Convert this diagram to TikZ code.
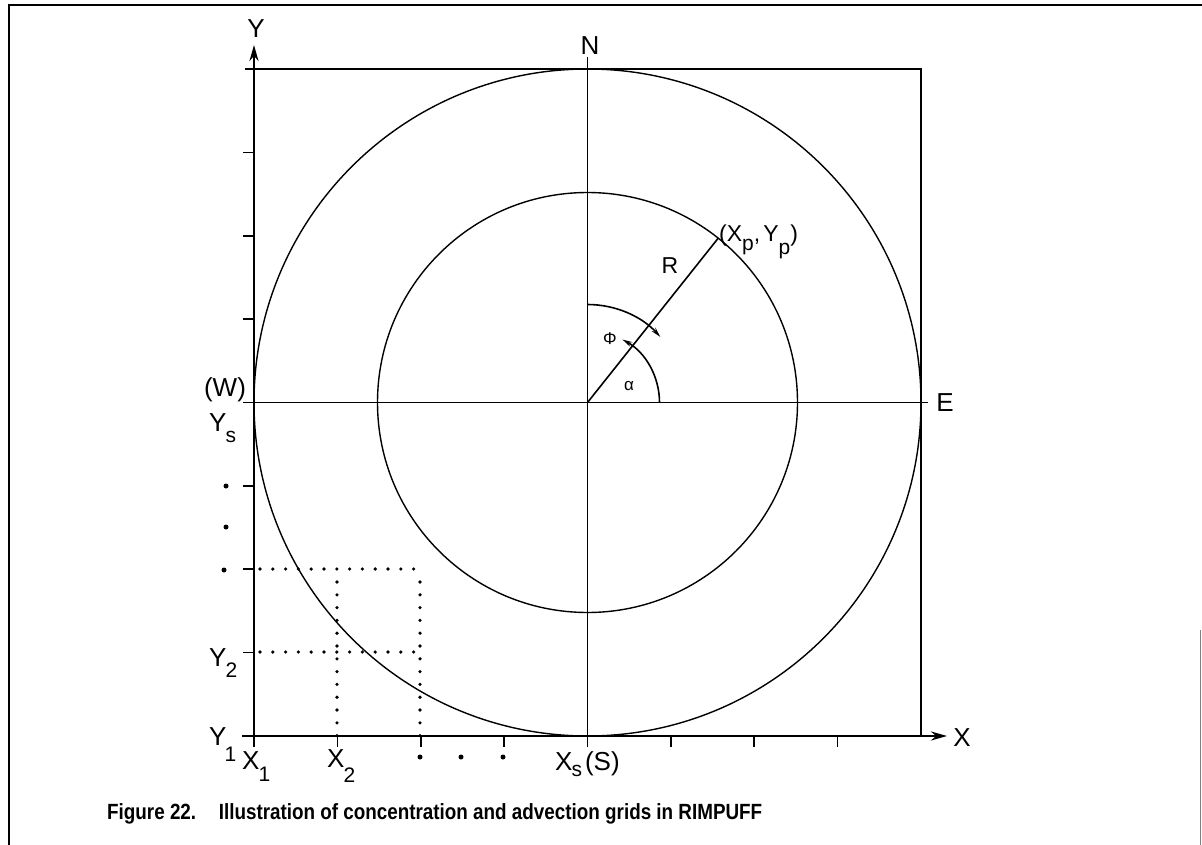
\documentclass[tikz,border=0pt]{standalone}
\usepackage{fontspec}
\setmainfont{Liberation Sans}
\usepackage{graphicx}
\usetikzlibrary{arrows.meta}
\newcommand\subf{\fontsize{21}{21}\selectfont}
\newcommand\subp{\fontsize{21}{21}\selectfont}
\begin{document}
\begin{tikzpicture}[x=1pt,y=-1pt,
  lbl/.style={inner sep=0pt, font=\fontsize{26}{26}\selectfont},
  smalllbl/.style={inner sep=0pt, font=\fontsize{23}{23}\selectfont},
  greek/.style={inner sep=0pt, font=\fontsize{17}{17}\selectfont},
  axisline/.style={line width=2.6pt},
  frameline/.style={line width=2.3pt},
  guide/.style={line width=1.6pt},
  circ/.style={line width=1.4pt},
  dotline/.style={line width=3.6pt, line cap=round, dash pattern=on 0pt off 12.8pt},
  tickline/.style={line width=1.7pt},
  dotmark/.style={circle, fill, inner sep=0pt, minimum size=5pt},
  border/.style={line width=1.7pt},
  bigtip/.style={-{Stealth[length=16pt,width=9pt]}},
  arctip/.style={-{Stealth[length=10pt,width=5pt]}}
]
\useasboundingbox (0,0) rectangle (1202,845);
% page frame
\coordinate (fb) at (9,850);
\coordinate (ftl) at (9,5);
\coordinate (ftr) at (1205,5);
\draw[border] (fb) -- (ftl) -- (ftr);
\coordinate (rb1) at (1200,630);
\coordinate (rb2) at (1200,850);
\draw[gray, line width=1pt] (rb1) -- (rb2);

% key coordinates
\coordinate (O) at (587.5,402.5);
\coordinate (sqTL) at (245,69);
\coordinate (sqTR) at (921,69);
\coordinate (sqBR) at (921,736);
\coordinate (yb) at (254,740);
\coordinate (yt) at (254,45);
\coordinate (xl) at (242,736);
\coordinate (xr) at (947,736);
\coordinate (hl) at (243,402.5);
\coordinate (hr) at (928,402.5);
\coordinate (vt) at (587.5,57);
\coordinate (vb) at (587.5,747);

% square
\draw[frameline] (sqTL) -- (sqTR) -- (sqBR);
% axes
\draw[axisline,bigtip] (yb) -- (yt);
\draw[axisline,bigtip] (xl) -- (xr);
% ticks
\foreach \i in {1,2,3,5,6,7}
  \draw[tickline] (254,{736-83.375*\i}) -- ++(-11,0);
\foreach \i in {0,...,7}
  \draw[tickline] ({254+83.375*\i},736) -- ++(0,11);
% cross lines
\draw[guide] (hl) -- (hr);
\draw[guide] (vt) -- (vb);
% circles
\draw[circ] (O) circle[radius=333.5];
\draw[circ] (O) circle[radius=210];
% radius and angles
\begin{scope}[shift={(O)}, y=1pt]
  \coordinate (C) at (0,0);
  \coordinate (P) at (51.5:210);
  \coordinate (a0) at (72,0);
  \coordinate (p0) at (0,98);
  \draw[guide] (C) -- (P);
  \draw[guide,arctip] (a0) arc[start angle=0,end angle=61,radius=72];
  \draw[guide,arctip] (p0) arc[start angle=90,end angle=42,radius=98];
\end{scope}

% dotted grid
\coordinate (g1) at (260,569); \coordinate (g2) at (420,569);
\coordinate (g3) at (260,652); \coordinate (g4) at (420,652);
\coordinate (g5) at (337,582); \coordinate (g6) at (337,736);
\coordinate (g7) at (420,582); \coordinate (g8) at (420,736);
\draw[dotline] (g1) -- (g2);
\draw[dotline] (g3) -- (g4);
\draw[dotline] (g5) -- (g6);
\draw[dotline] (g7) -- (g8);

% ellipsis dots
\node[dotmark] (d1) at (226,486) {};
\node[dotmark] (d2) at (226,527) {};
\node[dotmark] (d3) at (224,570) {};
\node[dotmark] (d4) at (420,757) {};
\node[dotmark] (d5) at (461,757) {};
\node[dotmark] (d6) at (503,757) {};

% labels
\node[lbl] (lY) at (256,29) {Y};
\node[lbl] (lN) at (590,46) {N};
\node[lbl] (lE) at (945,403) {E};
\node[lbl] (lX) at (962,738) {X};
\node[lbl] (lW) at (225,390) {(W)};
\node[lbl,anchor=base west] (lYs) at (209,431) {Y\kern-1pt\raisebox{-11pt}{\subf s}};
\node[lbl,anchor=base west] (lY2) at (209,666) {Y\kern-1pt\raisebox{-11pt}{\subf 2}};
\node[lbl,anchor=base west] (lY1) at (209,745) {Y\kern-2pt\raisebox{-16pt}{\subf 1}};
\node[lbl,anchor=base west] (lX1) at (242,769) {X\kern-1pt\raisebox{-12pt}{\subf 1}};
\node[lbl,anchor=base west] (lX2) at (327,767) {X\kern-1pt\raisebox{-15pt}{\subf 2}};
\node[lbl,anchor=base west] (lXs) at (555,770) {X\kern-1pt\raisebox{-6pt}{\subf s}\kern3pt(S)};
\node[smalllbl] (lR) at (670,266) {R};
\node[smalllbl,anchor=base west] (lP) at (719,242) {(X\raisebox{-9pt}{\subp p},\kern3pt Y\raisebox{-13pt}{\subp p})};
\node[greek] (lphi) at (610,339) {Φ};
\node[greek] (lalpha) at (629,386) {α};

% caption
\node[anchor=base west, inner sep=0pt] (cap) at (107,819)
  {\resizebox{655pt}{\height}{\fontsize{22}{22}\selectfont\bfseries Figure 22.\hspace{1.2em}Illustration of concentration and advection grids in RIMPUFF}};
\end{tikzpicture}
\end{document}
